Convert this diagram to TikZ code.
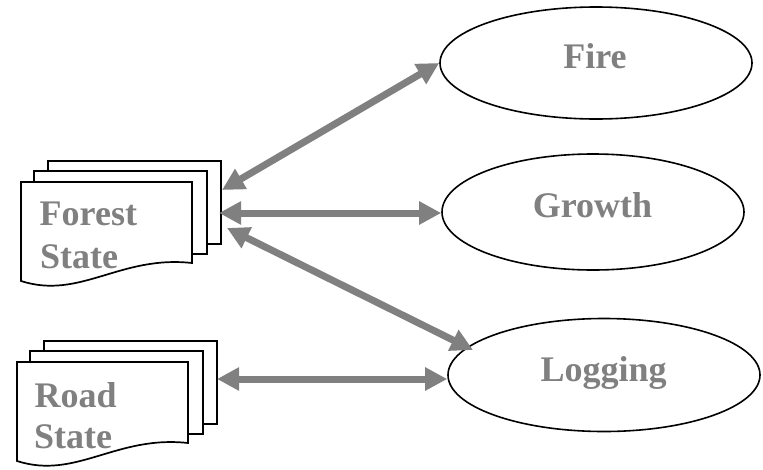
\documentclass[tikz,border=0pt]{standalone}
\usepackage{fontspec}
\setmainfont{Liberation Serif}
\usetikzlibrary{arrows.meta,shapes.geometric}
\definecolor{txtgray}{RGB}{128,128,128}
\definecolor{arrgray}{RGB}{128,128,128}
\tikzset{
  sheet/.style={draw=black, line width=1.7pt, fill=white, line join=miter},
  bubble/.style={ellipse, draw=black, line width=1.6pt, fill=white, inner sep=0pt},
  lbl/.style={inner sep=0pt, text=txtgray, font=\bfseries\fontsize{36}{42}\selectfont},
  arr/.style={draw=arrgray, line width=7pt,
    {Triangle[length=22pt,width=22pt]}-{Triangle[length=22pt,width=22pt]}},
  docstack/.pic={
    \path[sheet] (27,-21) rectangle (200,62);
    \path[sheet] (13,-11) rectangle (186,72);
    \path[sheet] (0,99) -- (0,0) -- (171,0) -- (171,81)
      .. controls (99,73) and (59,118) .. (0,99) -- cycle;
  }
}
\begin{document}
\begin{tikzpicture}[x=1pt,y=-1pt]
\useasboundingbox[fill=white] (0,0) rectangle (763,469);

% document stacks
\pic at (21,182) {docstack};
\pic at (17,362) {docstack};

\node[lbl, anchor=base west] (forest1) at (39.5,225) {Forest};
\node[lbl, anchor=base west] (forest2) at (40,268) {State};
\node[lbl, anchor=base west] (road1) at (34.5,407) {Road};
\node[lbl, anchor=base west] (road2) at (34,448) {State};

% ellipses
\node[bubble, minimum width=312pt, minimum height=112pt] (fire) at (596,63) {};
\node[bubble, minimum width=302pt, minimum height=116pt] (growth) at (593,212) {};
\node[bubble, minimum width=312pt, minimum height=113pt] (logging) at (604,375) {};

\node[lbl, anchor=base] (firetxt) at (595,68) {Fire};
\node[lbl, anchor=base] (growthtxt) at (592.5,217) {Growth};
\node[lbl, anchor=base] (loggingtxt) at (603.7,381) {Logging};

% connector end points on the document stacks
\coordinate (fsA) at (222,190);
\coordinate (fsB) at (219,213);
\coordinate (fsC) at (227,228);
\coordinate (rsA) at (217,379);
\coordinate (logA) at (473,350);

\draw[arr] (fsA) -- (fire.west);
\draw[arr] (fsB) -- (fsB -| growth.west);
\draw[arr] (fsC) -- (logA);
\draw[arr] (rsA) -- (rsA -| logging.west);
\end{tikzpicture}
\end{document}
